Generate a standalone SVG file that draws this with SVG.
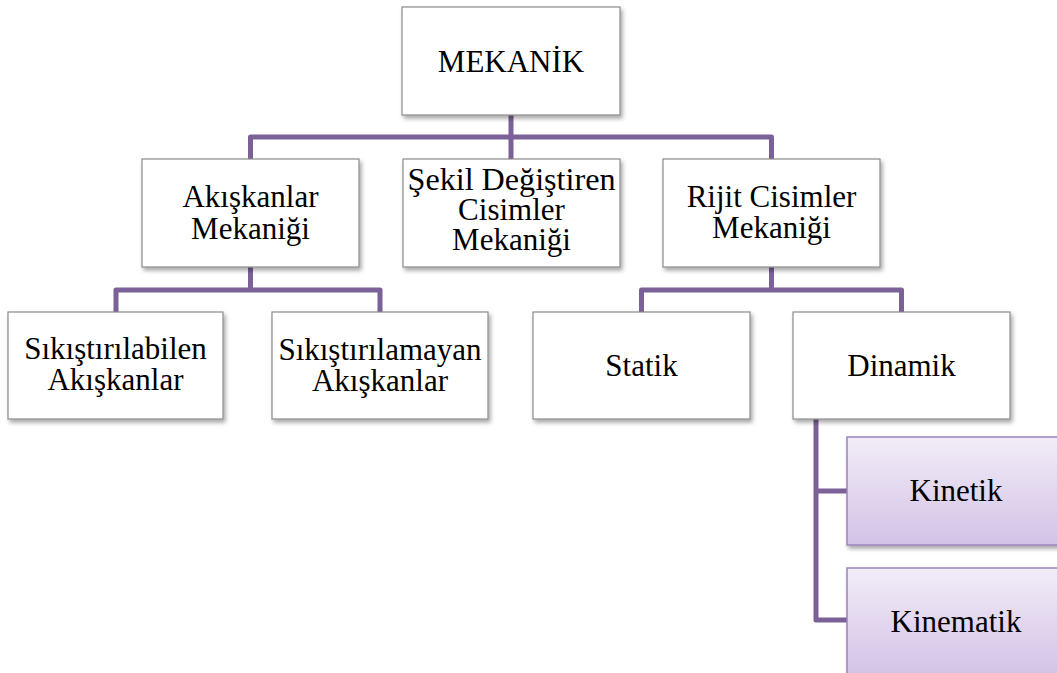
<svg xmlns="http://www.w3.org/2000/svg" width="1057" height="673" viewBox="0 0 1057 673">
<defs>
<filter id="sh" x="-10%" y="-10%" width="125%" height="130%">
<feDropShadow dx="2" dy="3" stdDeviation="2" flood-color="#000" flood-opacity="0.35"/>
</filter>
<linearGradient id="pg" x1="0" y1="0" x2="0" y2="1">
<stop offset="0" stop-color="#f2edf8"/>
<stop offset="1" stop-color="#d3c2e6"/>
</linearGradient>
</defs>
<rect width="1057" height="673" fill="#ffffff"/>
<g id="connectors" fill="none" stroke="#7b6198" stroke-width="5" stroke-linejoin="round">
<path d="M511,115 V137 M250.5,159 V137 H771.5 V159 M511,137 V159"/>
<path d="M250.5,267 V290 M116,312 V290 H380 V312"/>
<path d="M771.5,267 V290 M641.5,312 V290 H901.5 V312"/>
<path d="M816,419 V620 H847 M816,491 H847"/>
</g>
<g font-size="31" text-anchor="middle" fill="#000000">
<g id="mekanik">
<rect x="402" y="7" width="218" height="108" fill="#ffffff" stroke="#8a8a8a" stroke-width="1.2" filter="url(#sh)"/>
<text x="511" y="72" style="font-family:'Liberation Serif',serif">MEKANİK</text>
</g>
<g id="akiskanlar">
<rect x="142" y="159" width="217" height="108" fill="#ffffff" stroke="#8a8a8a" stroke-width="1.2" filter="url(#sh)"/>
<text x="250.5" y="207" style="font-family:'Liberation Serif',serif">Akışkanlar</text>
<text x="250.5" y="239" style="font-family:'Liberation Serif',serif">Mekaniği</text>
</g>
<g id="sekil">
<rect x="403" y="159" width="217" height="108" fill="#ffffff" stroke="#8a8a8a" stroke-width="1.2" filter="url(#sh)"/>
<text x="511.5" y="190" textLength="208" lengthAdjust="spacingAndGlyphs" style="font-family:'Liberation Serif',serif">Şekil Değiştiren</text>
<text x="511.5" y="220" style="font-family:'Liberation Serif',serif">Cisimler</text>
<text x="511.5" y="250" style="font-family:'Liberation Serif',serif">Mekaniği</text>
</g>
<g id="rijit">
<rect x="663" y="159" width="217" height="108" fill="#ffffff" stroke="#8a8a8a" stroke-width="1.2" filter="url(#sh)"/>
<text x="771.5" y="207" style="font-family:'Liberation Serif',serif">Rijit Cisimler</text>
<text x="771.5" y="238" style="font-family:'Liberation Serif',serif">Mekaniği</text>
</g>
<g id="sikistirilabilen">
<rect x="8" y="312" width="215" height="107" fill="#ffffff" stroke="#8a8a8a" stroke-width="1.2" filter="url(#sh)"/>
<text x="115.5" y="359" style="font-family:'Liberation Serif',serif">Sıkıştırılabilen</text>
<text x="115.5" y="390" style="font-family:'Liberation Serif',serif">Akışkanlar</text>
</g>
<g id="sikistirilamayan">
<rect x="272" y="312" width="216" height="107" fill="#ffffff" stroke="#8a8a8a" stroke-width="1.2" filter="url(#sh)"/>
<text x="380" y="360" style="font-family:'Liberation Serif',serif">Sıkıştırılamayan</text>
<text x="380" y="391" style="font-family:'Liberation Serif',serif">Akışkanlar</text>
</g>
<g id="statik">
<rect x="533" y="312" width="217" height="107" fill="#ffffff" stroke="#8a8a8a" stroke-width="1.2" filter="url(#sh)"/>
<text x="641.5" y="376" style="font-family:'Liberation Serif',serif">Statik</text>
</g>
<g id="dinamik">
<rect x="793" y="312" width="217" height="107" fill="#ffffff" stroke="#8a8a8a" stroke-width="1.2" filter="url(#sh)"/>
<text x="901.5" y="376" style="font-family:'Liberation Serif',serif">Dinamik</text>
</g>
<g id="kinetik">
<rect x="847" y="437" width="218" height="108" fill="url(#pg)" stroke="#9b84bb" stroke-width="1.5" filter="url(#sh)"/>
<text x="956" y="501" style="font-family:'Liberation Serif',serif">Kinetik</text>
</g>
<g id="kinematik">
<rect x="847" y="568" width="218" height="108" fill="url(#pg)" stroke="#9b84bb" stroke-width="1.5" filter="url(#sh)"/>
<text x="956" y="632" style="font-family:'Liberation Serif',serif">Kinematik</text>
</g>
</g>
</svg>
